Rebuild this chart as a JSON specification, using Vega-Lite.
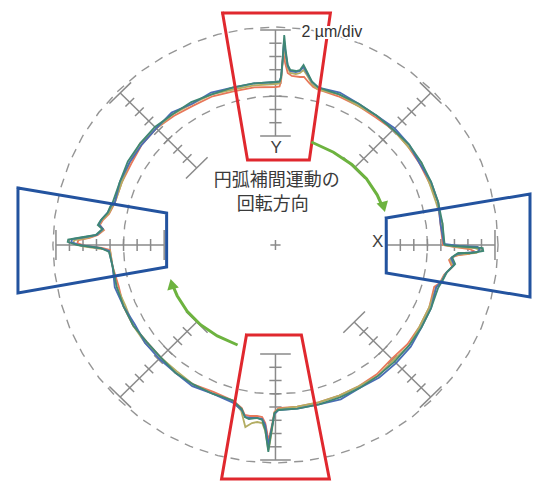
{
"$schema": "https://vega.github.io/schema/vega-lite/v6.json",
"width": 536, "height": 486,
"autosize": {"type": "fit", "contains": "padding"},
"padding": 0,
"background": "white",
"config": {"view": {"stroke": null}},
"encoding": {
  "x": {"field": "x", "type": "quantitative", "scale": {"domain": [-269.8, 254.2], "nice": false, "zero": false}, "axis": null},
  "y": {"field": "y", "type": "quantitative", "scale": {"domain": [-241, 245], "nice": false, "zero": false}, "axis": null}
},
"datasets": {
"rings": [
{"c":"o","x":218,"y":0},{"c":"o","x":216.1,"y":28.5},{"c":"o","x":210.6,"y":56.4},{"c":"o","x":201.4,"y":83.4},{"c":"o","x":188.8,"y":109},{"c":"o","x":172.9,"y":132.7},{"c":"o","x":154.1,"y":154.1},{"c":"o","x":132.7,"y":172.9},{"c":"o","x":109,"y":188.8},{"c":"o","x":83.4,"y":201.4},{"c":"o","x":56.4,"y":210.6},{"c":"o","x":28.5,"y":216.1},{"c":"o","x":0,"y":218},
{"c":"o","x":-28.5,"y":216.1},{"c":"o","x":-56.4,"y":210.6},{"c":"o","x":-83.4,"y":201.4},{"c":"o","x":-109,"y":188.8},{"c":"o","x":-132.7,"y":172.9},{"c":"o","x":-154.1,"y":154.1},{"c":"o","x":-172.9,"y":132.7},{"c":"o","x":-188.8,"y":109},{"c":"o","x":-201.4,"y":83.4},{"c":"o","x":-210.6,"y":56.4},{"c":"o","x":-216.1,"y":28.5},{"c":"o","x":-218,"y":0},
{"c":"o","x":-216.1,"y":-28.5},{"c":"o","x":-210.6,"y":-56.4},{"c":"o","x":-201.4,"y":-83.4},{"c":"o","x":-188.8,"y":-109},{"c":"o","x":-172.9,"y":-132.7},{"c":"o","x":-154.1,"y":-154.1},{"c":"o","x":-132.7,"y":-172.9},{"c":"o","x":-109,"y":-188.8},{"c":"o","x":-83.4,"y":-201.4},{"c":"o","x":-56.4,"y":-210.6},{"c":"o","x":-28.5,"y":-216.1},{"c":"o","x":0,"y":-218},
{"c":"o","x":28.5,"y":-216.1},{"c":"o","x":56.4,"y":-210.6},{"c":"o","x":83.4,"y":-201.4},{"c":"o","x":109,"y":-188.8},{"c":"o","x":132.7,"y":-172.9},{"c":"o","x":154.1,"y":-154.1},{"c":"o","x":172.9,"y":-132.7},{"c":"o","x":188.8,"y":-109},{"c":"o","x":201.4,"y":-83.4},{"c":"o","x":210.6,"y":-56.4},{"c":"o","x":216.1,"y":-28.5},{"c":"o","x":218,"y":0},
{"c":"i","x":149,"y":0},{"c":"i","x":147.7,"y":19.4},{"c":"i","x":143.9,"y":38.6},{"c":"i","x":137.7,"y":57.0},{"c":"i","x":129.0,"y":74.5},{"c":"i","x":118.2,"y":90.7},{"c":"i","x":105.4,"y":105.4},{"c":"i","x":90.7,"y":118.2},{"c":"i","x":74.5,"y":129.0},{"c":"i","x":57.0,"y":137.7},{"c":"i","x":38.6,"y":143.9},{"c":"i","x":19.4,"y":147.7},{"c":"i","x":0,"y":149},
{"c":"i","x":-19.4,"y":147.7},{"c":"i","x":-38.6,"y":143.9},{"c":"i","x":-57.0,"y":137.7},{"c":"i","x":-74.5,"y":129.0},{"c":"i","x":-90.7,"y":118.2},{"c":"i","x":-105.4,"y":105.4},{"c":"i","x":-118.2,"y":90.7},{"c":"i","x":-129.0,"y":74.5},{"c":"i","x":-137.7,"y":57.0},{"c":"i","x":-143.9,"y":38.6},{"c":"i","x":-147.7,"y":19.4},{"c":"i","x":-149,"y":0},
{"c":"i","x":-147.7,"y":-19.4},{"c":"i","x":-143.9,"y":-38.6},{"c":"i","x":-137.7,"y":-57.0},{"c":"i","x":-129.0,"y":-74.5},{"c":"i","x":-118.2,"y":-90.7},{"c":"i","x":-105.4,"y":-105.4},{"c":"i","x":-90.7,"y":-118.2},{"c":"i","x":-74.5,"y":-129.0},{"c":"i","x":-57.0,"y":-137.7},{"c":"i","x":-38.6,"y":-143.9},{"c":"i","x":-19.4,"y":-147.7},{"c":"i","x":0,"y":-149},
{"c":"i","x":19.4,"y":-147.7},{"c":"i","x":38.6,"y":-143.9},{"c":"i","x":57.0,"y":-137.7},{"c":"i","x":74.5,"y":-129.0},{"c":"i","x":90.7,"y":-118.2},{"c":"i","x":105.4,"y":-105.4},{"c":"i","x":118.2,"y":-90.7},{"c":"i","x":129.0,"y":-74.5},{"c":"i","x":137.7,"y":-57.0},{"c":"i","x":143.9,"y":-38.6},{"c":"i","x":147.7,"y":-19.4},{"c":"i","x":149,"y":0}
],
"rules": [
{"x":0,"y":109,"x2":0,"y2":215},{"x":0,"y":-109,"x2":0,"y2":-215},{"x":109,"y":0,"x2":215,"y2":0},{"x":-109,"y":0,"x2":-215,"y2":0},
{"x":77.07,"y":77.07,"x2":152.03,"y2":152.03},{"x":-77.07,"y":77.07,"x2":-152.03,"y2":152.03},{"x":-77.07,"y":-77.07,"x2":-152.03,"y2":-152.03},{"x":77.07,"y":-77.07,"x2":152.03,"y2":-152.03},
{"x":-5,"y":0,"x2":5,"y2":0},{"x":0,"y":-5,"x2":0,"y2":5},
{"x":-15,"y":109,"x2":15,"y2":109},{"x":-6,"y":122.3,"x2":6,"y2":122.3},{"x":-6,"y":135.5,"x2":6,"y2":135.5},{"x":-6,"y":148.8,"x2":6,"y2":148.8},{"x":-6,"y":162,"x2":6,"y2":162},{"x":-6,"y":175.3,"x2":6,"y2":175.3},{"x":-6,"y":188.5,"x2":6,"y2":188.5},{"x":-6,"y":201.8,"x2":6,"y2":201.8},{"x":-15,"y":215,"x2":15,"y2":215},
{"x":-15,"y":-109,"x2":15,"y2":-109},{"x":-6,"y":-122.3,"x2":6,"y2":-122.3},{"x":-6,"y":-135.5,"x2":6,"y2":-135.5},{"x":-6,"y":-148.8,"x2":6,"y2":-148.8},{"x":-6,"y":-162,"x2":6,"y2":-162},{"x":-6,"y":-175.3,"x2":6,"y2":-175.3},{"x":-6,"y":-188.5,"x2":6,"y2":-188.5},{"x":-6,"y":-201.8,"x2":6,"y2":-201.8},{"x":-15,"y":-215,"x2":15,"y2":-215},
{"x":109,"y":-15,"x2":109,"y2":15},{"x":122.3,"y":-6,"x2":122.3,"y2":6},{"x":135.5,"y":-6,"x2":135.5,"y2":6},{"x":148.8,"y":-6,"x2":148.8,"y2":6},{"x":162,"y":-6,"x2":162,"y2":6},{"x":175.3,"y":-6,"x2":175.3,"y2":6},{"x":188.5,"y":-6,"x2":188.5,"y2":6},{"x":201.8,"y":-6,"x2":201.8,"y2":6},{"x":215,"y":-15,"x2":215,"y2":15},
{"x":-109,"y":-15,"x2":-109,"y2":15},{"x":-122.3,"y":-6,"x2":-122.3,"y2":6},{"x":-135.5,"y":-6,"x2":-135.5,"y2":6},{"x":-148.8,"y":-6,"x2":-148.8,"y2":6},{"x":-162,"y":-6,"x2":-162,"y2":6},{"x":-175.3,"y":-6,"x2":-175.3,"y2":6},{"x":-188.5,"y":-6,"x2":-188.5,"y2":6},{"x":-201.8,"y":-6,"x2":-201.8,"y2":6},{"x":-215,"y":-15,"x2":-215,"y2":15},
{"x":66.47,"y":87.68,"x2":87.68,"y2":66.47},{"x":82.24,"y":90.72,"x2":90.72,"y2":82.24},{"x":91.57,"y":100.06,"x2":100.06,"y2":91.57},{"x":100.98,"y":109.46,"x2":109.46,"y2":100.98},{"x":110.31,"y":118.79,"x2":118.79,"y2":110.31},{"x":119.71,"y":128.2,"x2":128.2,"y2":119.71},{"x":129.05,"y":137.53,"x2":137.53,"y2":129.05},{"x":138.45,"y":146.94,"x2":146.94,"y2":138.45},{"x":141.42,"y":162.64,"x2":162.64,"y2":141.42},
{"x":-87.68,"y":66.47,"x2":-66.47,"y2":87.68},{"x":-90.72,"y":82.24,"x2":-82.24,"y2":90.72},{"x":-100.06,"y":91.57,"x2":-91.57,"y2":100.06},{"x":-109.46,"y":100.98,"x2":-100.98,"y2":109.46},{"x":-118.79,"y":110.31,"x2":-110.31,"y2":118.79},{"x":-128.2,"y":119.71,"x2":-119.71,"y2":128.2},{"x":-137.53,"y":129.05,"x2":-129.05,"y2":137.53},{"x":-146.94,"y":138.45,"x2":-138.45,"y2":146.94},{"x":-162.64,"y":141.42,"x2":-141.42,"y2":162.64},
{"x":-66.47,"y":-87.68,"x2":-87.68,"y2":-66.47},{"x":-82.24,"y":-90.72,"x2":-90.72,"y2":-82.24},{"x":-91.57,"y":-100.06,"x2":-100.06,"y2":-91.57},{"x":-100.98,"y":-109.46,"x2":-109.46,"y2":-100.98},{"x":-110.31,"y":-118.79,"x2":-118.79,"y2":-110.31},{"x":-119.71,"y":-128.2,"x2":-128.2,"y2":-119.71},{"x":-129.05,"y":-137.53,"x2":-137.53,"y2":-129.05},{"x":-138.45,"y":-146.94,"x2":-146.94,"y2":-138.45},{"x":-141.42,"y":-162.64,"x2":-162.64,"y2":-141.42},
{"x":87.68,"y":-66.47,"x2":66.47,"y2":-87.68},{"x":90.72,"y":-82.24,"x2":82.24,"y2":-90.72},{"x":100.06,"y":-91.57,"x2":91.57,"y2":-100.06},{"x":109.46,"y":-100.98,"x2":100.98,"y2":-109.46},{"x":118.79,"y":-110.31,"x2":110.31,"y2":-118.79},{"x":128.2,"y":-119.71,"x2":119.71,"y2":-128.2},{"x":137.53,"y":-129.05,"x2":129.05,"y2":-137.53},{"x":146.94,"y":-138.45,"x2":138.45,"y2":-146.94},{"x":162.64,"y":-141.42,"x2":141.42,"y2":-162.64}
],
"trace": [
{"s":"r","x":41.7,"y":155.5},{"s":"r","x":61.6,"y":148.7},{"s":"r","x":80.5,"y":139.4},{"s":"r","x":98.0,"y":127.7},{"s":"r","x":115.3,"y":115.3},{"s":"r","x":129.3,"y":99.2},{"s":"r","x":141.2,"y":81.5},{"s":"r","x":150.6,"y":62.4},{"s":"r","x":159.4,"y":42.7},{"s":"r","x":161.6,"y":21.3},
{"s":"r","x":164,"y":0},{"s":"r","x":176,"y":-2},{"s":"r","x":190,"y":-4},{"s":"r","x":194,"y":-6},{"s":"r","x":190,"y":-9},{"s":"r","x":180,"y":-10},{"s":"r","x":174,"y":-12},{"s":"r","x":170,"y":-15},{"s":"r","x":173,"y":-22},{"s":"r","x":165,"y":-30},{"s":"r","x":161,"y":-38},
{"s":"r","x":155.5,"y":-41.7},{"s":"r","x":150.6,"y":-62.4},{"s":"r","x":141.2,"y":-81.5},{"s":"r","x":129.3,"y":-99.2},{"s":"r","x":113.8,"y":-113.8},{"s":"r","x":99.2,"y":-129.3},{"s":"r","x":81.5,"y":-141.2},{"s":"r","x":62.4,"y":-150.6},{"s":"r","x":42.2,"y":-157.4},{"s":"r","x":21.3,"y":-161.6},
{"s":"r","x":3,"y":-163},{"s":"r","x":-1,"y":-167},{"s":"r","x":-3,"y":-178},{"s":"r","x":-5.5,"y":-190},{"s":"r","x":-7,"y":-195},{"s":"r","x":-8.5,"y":-186},{"s":"r","x":-10,"y":-178},{"s":"r","x":-13,"y":-172},{"s":"r","x":-18,"y":-171},{"s":"r","x":-25,"y":-171},{"s":"r","x":-30,"y":-170},{"s":"r","x":-33,"y":-163},
{"s":"r","x":-41.7,"y":-155.5},{"s":"r","x":-60.8,"y":-146.9},{"s":"r","x":-80.5,"y":-139.4},{"s":"r","x":-98.0,"y":-127.7},{"s":"r","x":-112.4,"y":-112.4},{"s":"r","x":-126.1,"y":-96.8},{"s":"r","x":-139.4,"y":-80.5},{"s":"r","x":-148.7,"y":-61.6},{"s":"r","x":-153.6,"y":-41.2},{"s":"r","x":-159.6,"y":-21.0},
{"s":"r","x":-162,"y":-5},{"s":"r","x":-170,"y":-3},{"s":"r","x":-186,"y":-1},{"s":"r","x":-194,"y":2},{"s":"r","x":-193,"y":5},{"s":"r","x":-182,"y":7},{"s":"r","x":-174,"y":10},{"s":"r","x":-168,"y":15},{"s":"r","x":-172,"y":20},{"s":"r","x":-169,"y":25},{"s":"r","x":-163,"y":31},{"s":"r","x":-160,"y":37},
{"s":"r","x":-157.4,"y":42.2},{"s":"r","x":-150.6,"y":62.4},{"s":"r","x":-141.2,"y":81.5},{"s":"r","x":-130.9,"y":100.4},{"s":"r","x":-116.7,"y":116.7},{"s":"r","x":-99.2,"y":129.3},{"s":"r","x":-80.5,"y":139.4},{"s":"r","x":-61.6,"y":148.7},{"s":"r","x":-41.2,"y":153.6},{"s":"r","x":-20.8,"y":157.6},
{"s":"r","x":0,"y":158},{"s":"r","x":4,"y":158.5},{"s":"r","x":5.5,"y":164},{"s":"r","x":6.5,"y":178},{"s":"r","x":7.6,"y":193},{"s":"r","x":9.5,"y":182},{"s":"r","x":12,"y":172},{"s":"r","x":16,"y":169},{"s":"r","x":24,"y":168},{"s":"r","x":28,"y":168},{"s":"r","x":33,"y":162},{"s":"r","x":37,"y":158},{"s":"r","x":41.7,"y":155.5},

{"s":"o","x":41.7,"y":155.5},{"s":"o","x":62.4,"y":150.6},{"s":"o","x":80.5,"y":139.4},{"s":"o","x":99.2,"y":129.3},{"s":"o","x":115.3,"y":115.3},{"s":"o","x":129.3,"y":99.2},{"s":"o","x":142.9,"y":82.5},{"s":"o","x":150.6,"y":62.4},{"s":"o","x":157.4,"y":42.2},{"s":"o","x":163.6,"y":21.5},
{"s":"o","x":165,"y":0},{"s":"o","x":178,"y":-2},{"s":"o","x":195,"y":-3},{"s":"o","x":200,"y":-5},{"s":"o","x":197,"y":-8},{"s":"o","x":184,"y":-9},{"s":"o","x":177,"y":-10},{"s":"o","x":171,"y":-14},{"s":"o","x":174,"y":-21},{"s":"o","x":166,"y":-29},{"s":"o","x":162,"y":-37},
{"s":"o","x":157.4,"y":-42.2},{"s":"o","x":150.6,"y":-62.4},{"s":"o","x":141.2,"y":-81.5},{"s":"o","x":130.9,"y":-100.4},{"s":"o","x":115.3,"y":-115.3},{"s":"o","x":100.4,"y":-130.9},{"s":"o","x":81.5,"y":-141.2},{"s":"o","x":62.4,"y":-150.6},{"s":"o","x":42.2,"y":-157.4},{"s":"o","x":21.3,"y":-161.6},
{"s":"o","x":3,"y":-164},{"s":"o","x":-1,"y":-168},{"s":"o","x":-3,"y":-182},{"s":"o","x":-5.5,"y":-198},{"s":"o","x":-7,"y":-205},{"s":"o","x":-8.5,"y":-195},{"s":"o","x":-10,"y":-186},{"s":"o","x":-13,"y":-178},{"s":"o","x":-18,"y":-177},{"s":"o","x":-23,"y":-178},{"s":"o","x":-29.5,"y":-182},{"s":"o","x":-33.5,"y":-166},
{"s":"o","x":-41.7,"y":-155.5},{"s":"o","x":-61.6,"y":-148.7},{"s":"o","x":-80.5,"y":-139.4},{"s":"o","x":-96.8,"y":-126.1},{"s":"o","x":-112.4,"y":-112.4},{"s":"o","x":-127.7,"y":-98.0},{"s":"o","x":-139.4,"y":-80.5},{"s":"o","x":-146.9,"y":-60.8},{"s":"o","x":-155.5,"y":-41.7},{"s":"o","x":-159.6,"y":-21.0},
{"s":"o","x":-162,"y":-6},{"s":"o","x":-170,"y":-4},{"s":"o","x":-190,"y":-1},{"s":"o","x":-198,"y":2},{"s":"o","x":-197,"y":5},{"s":"o","x":-185,"y":7},{"s":"o","x":-175,"y":10},{"s":"o","x":-169,"y":15},{"s":"o","x":-173,"y":20},{"s":"o","x":-170,"y":25},{"s":"o","x":-163,"y":32},{"s":"o","x":-160,"y":38},
{"s":"o","x":-157.4,"y":42.2},{"s":"o","x":-150.6,"y":62.4},{"s":"o","x":-142.9,"y":82.5},{"s":"o","x":-132.5,"y":101.7},{"s":"o","x":-116.7,"y":116.7},{"s":"o","x":-100.4,"y":130.9},{"s":"o","x":-81.5,"y":141.2},{"s":"o","x":-62.4,"y":150.6},{"s":"o","x":-41.7,"y":155.5},{"s":"o","x":-21.0,"y":159.6},
{"s":"o","x":0,"y":161},{"s":"o","x":4,"y":161.5},{"s":"o","x":5.5,"y":166},{"s":"o","x":7,"y":182},{"s":"o","x":8.2,"y":200},{"s":"o","x":10,"y":188},{"s":"o","x":12,"y":177},{"s":"o","x":14.5,"y":172},{"s":"o","x":20,"y":171},{"s":"o","x":24,"y":172},{"s":"o","x":27.5,"y":175},{"s":"o","x":30.8,"y":170},{"s":"o","x":35.7,"y":161},{"s":"o","x":41.7,"y":155.5},

{"s":"b","x":42.2,"y":157.4},{"s":"b","x":63.1,"y":152.4},{"s":"b","x":81.5,"y":141.2},{"s":"b","x":99.2,"y":129.3},{"s":"b","x":116.7,"y":116.7},{"s":"b","x":130.9,"y":100.4},{"s":"b","x":141.2,"y":81.5},{"s":"b","x":152.4,"y":63.1},{"s":"b","x":159.4,"y":42.7},{"s":"b","x":161.6,"y":21.3},
{"s":"b","x":165,"y":1},{"s":"b","x":180,"y":-1},{"s":"b","x":198,"y":-2},{"s":"b","x":200,"y":-4},{"s":"b","x":198,"y":-7},{"s":"b","x":185,"y":-8},{"s":"b","x":178,"y":-9},{"s":"b","x":172,"y":-13},{"s":"b","x":175,"y":-20},{"s":"b","x":167,"y":-28},{"s":"b","x":163,"y":-36},
{"s":"b","x":157.4,"y":-42.2},{"s":"b","x":152.4,"y":-63.1},{"s":"b","x":142.9,"y":-82.5},{"s":"b","x":132.5,"y":-101.7},{"s":"b","x":118.1,"y":-118.1},{"s":"b","x":101.7,"y":-132.5},{"s":"b","x":82.5,"y":-142.9},{"s":"b","x":63.9,"y":-154.3},{"s":"b","x":42.7,"y":-159.4},{"s":"b","x":21.5,"y":-163.6},
{"s":"b","x":3,"y":-165},{"s":"b","x":-1,"y":-169},{"s":"b","x":-3,"y":-180},{"s":"b","x":-5.5,"y":-193},{"s":"b","x":-7,"y":-200},{"s":"b","x":-8.5,"y":-190},{"s":"b","x":-10,"y":-180},{"s":"b","x":-13,"y":-174},{"s":"b","x":-18,"y":-173},{"s":"b","x":-25,"y":-173},{"s":"b","x":-29.5,"y":-172},{"s":"b","x":-33,"y":-165},
{"s":"b","x":-42.2,"y":-157.4},{"s":"b","x":-61.6,"y":-148.7},{"s":"b","x":-81.5,"y":-141.2},{"s":"b","x":-98.0,"y":-127.7},{"s":"b","x":-113.8,"y":-113.8},{"s":"b","x":-127.7,"y":-98.0},{"s":"b","x":-137.7,"y":-79.5},{"s":"b","x":-148.7,"y":-61.6},{"s":"b","x":-157.4,"y":-42.2},{"s":"b","x":-159.6,"y":-21.0},
{"s":"b","x":-163,"y":-6},{"s":"b","x":-172,"y":-3},{"s":"b","x":-192,"y":0},{"s":"b","x":-200,"y":3},{"s":"b","x":-199,"y":6},{"s":"b","x":-186,"y":8},{"s":"b","x":-175,"y":10},{"s":"b","x":-169,"y":16},{"s":"b","x":-173,"y":21},{"s":"b","x":-170,"y":26},{"s":"b","x":-164,"y":33},{"s":"b","x":-161,"y":39},
{"s":"b","x":-157.4,"y":42.2},{"s":"b","x":-152.4,"y":63.1},{"s":"b","x":-142.9,"y":82.5},{"s":"b","x":-130.9,"y":100.4},{"s":"b","x":-116.7,"y":116.7},{"s":"b","x":-101.7,"y":132.5},{"s":"b","x":-81.5,"y":141.2},{"s":"b","x":-63.1,"y":152.4},{"s":"b","x":-42.2,"y":157.4},{"s":"b","x":-21.3,"y":161.6},
{"s":"b","x":0,"y":163},{"s":"b","x":4,"y":163.5},{"s":"b","x":5.5,"y":168},{"s":"b","x":7,"y":184},{"s":"b","x":8.4,"y":205},{"s":"b","x":10,"y":192},{"s":"b","x":12,"y":179},{"s":"b","x":14.5,"y":174},{"s":"b","x":20,"y":173},{"s":"b","x":24,"y":174},{"s":"b","x":27.5,"y":178},{"s":"b","x":30.8,"y":172},{"s":"b","x":35.7,"y":163},{"s":"b","x":42.2,"y":157.4},

{"s":"g","x":42.2,"y":157.4},{"s":"g","x":62.4,"y":150.6},{"s":"g","x":81.5,"y":141.2},{"s":"g","x":99.2,"y":129.3},{"s":"g","x":115.3,"y":115.3},{"s":"g","x":130.9,"y":100.4},{"s":"g","x":142.9,"y":82.5},{"s":"g","x":152.4,"y":63.1},{"s":"g","x":159.4,"y":42.7},{"s":"g","x":163.6,"y":21.5},{"s":"g","x":165.5,"y":2},
{"s":"g","x":166,"y":0},{"s":"g","x":175,"y":-1},{"s":"g","x":190,"y":-2},{"s":"g","x":203,"y":-3},{"s":"g","x":203.5,"y":-6},{"s":"g","x":192,"y":-8},{"s":"g","x":179,"y":-8},{"s":"g","x":173,"y":-12},{"s":"g","x":176,"y":-19},{"s":"g","x":168,"y":-27},{"s":"g","x":164,"y":-35},
{"s":"g","x":159.4,"y":-42.7},{"s":"g","x":152.4,"y":-63.1},{"s":"g","x":142.9,"y":-82.5},{"s":"g","x":130.9,"y":-100.4},{"s":"g","x":116.7,"y":-116.7},{"s":"g","x":100.4,"y":-130.9},{"s":"g","x":82.5,"y":-142.9},{"s":"g","x":63.1,"y":-152.4},{"s":"g","x":42.7,"y":-159.4},{"s":"g","x":21.5,"y":-163.6},
{"s":"g","x":2.7,"y":-165},{"s":"g","x":-1,"y":-168},{"s":"g","x":-3,"y":-180},{"s":"g","x":-5.5,"y":-196},{"s":"g","x":-7,"y":-207},{"s":"g","x":-8.5,"y":-196},{"s":"g","x":-10,"y":-185},{"s":"g","x":-13,"y":-175},{"s":"g","x":-18,"y":-173},{"s":"g","x":-26,"y":-174},{"s":"g","x":-30,"y":-172},{"s":"g","x":-33,"y":-164},
{"s":"g","x":-41.7,"y":-155.5},{"s":"g","x":-61.6,"y":-148.7},{"s":"g","x":-80.5,"y":-139.4},{"s":"g","x":-98.0,"y":-127.7},{"s":"g","x":-112.4,"y":-112.4},{"s":"g","x":-126.1,"y":-96.8},{"s":"g","x":-139.4,"y":-80.5},{"s":"g","x":-148.7,"y":-61.6},{"s":"g","x":-155.5,"y":-41.7},{"s":"g","x":-159.6,"y":-21.0},
{"s":"g","x":-163,"y":-7},{"s":"g","x":-171,"y":-3},{"s":"g","x":-194,"y":0},{"s":"g","x":-203.5,"y":3},{"s":"g","x":-203,"y":5.5},{"s":"g","x":-188,"y":8},{"s":"g","x":-176,"y":10},{"s":"g","x":-169.5,"y":16},{"s":"g","x":-174,"y":20},{"s":"g","x":-171,"y":25},{"s":"g","x":-164.5,"y":32},{"s":"g","x":-162,"y":38},
{"s":"g","x":-159.4,"y":42.7},{"s":"g","x":-152.4,"y":63.1},{"s":"g","x":-144.6,"y":83.5},{"s":"g","x":-132.5,"y":101.7},{"s":"g","x":-118.1,"y":118.1},{"s":"g","x":-100.4,"y":130.9},{"s":"g","x":-82.5,"y":142.9},{"s":"g","x":-62.4,"y":150.6},{"s":"g","x":-42.2,"y":157.4},{"s":"g","x":-21.3,"y":161.6},
{"s":"g","x":0,"y":163},{"s":"g","x":4,"y":163.5},{"s":"g","x":5.5,"y":168},{"s":"g","x":7,"y":185},{"s":"g","x":8.6,"y":210},{"s":"g","x":10,"y":195},{"s":"g","x":12,"y":180},{"s":"g","x":14.5,"y":175},{"s":"g","x":20,"y":174},{"s":"g","x":24,"y":175},{"s":"g","x":27.5,"y":180},{"s":"g","x":30.8,"y":173.5},{"s":"g","x":35.7,"y":163.5},{"s":"g","x":42.2,"y":157.4}
],
"redbox": [
{"p":"t","x":-51.8,"y":232},{"p":"t","x":53.8,"y":232},{"p":"t","x":33.2,"y":85},{"p":"t","x":-27.4,"y":85},{"p":"t","x":-51.8,"y":232},
{"p":"b","x":-28.4,"y":-90},{"p":"b","x":25.4,"y":-90},{"p":"b","x":52.8,"y":-234},{"p":"b","x":-52.8,"y":-234},{"p":"b","x":-28.4,"y":-90}
],
"bluebox": [
{"p":"l","x":-252.2,"y":57},{"p":"l","x":-106.6,"y":32},{"p":"l","x":-106.6,"y":-22},{"p":"l","x":-252.2,"y":-48},{"p":"l","x":-252.2,"y":57},
{"p":"r","x":108.5,"y":27},{"p":"r","x":249.3,"y":51},{"p":"r","x":249.3,"y":-52},{"p":"r","x":108.5,"y":-28},{"p":"r","x":108.5,"y":27}
],
"arrows": [
{"a":"t","x":35.2,"y":103},{"a":"t","x":56.8,"y":92.8},{"a":"t","x":74.8,"y":80.6},{"a":"t","x":89.1,"y":66.4},{"a":"t","x":99.6,"y":50.2},{"a":"t","x":103.5,"y":41.3},
{"a":"b","x":-37.1,"y":-100},{"a":"b","x":-57.0,"y":-90.9},{"a":"b","x":-73.4,"y":-79.7},{"a":"b","x":-86.5,"y":-66.3},{"a":"b","x":-96.3,"y":-50.7},{"a":"b","x":-99.9,"y":-42.1}
]
},
"layer": [
{"data": {"name": "rings"}, "mark": {"type": "line", "stroke": "#959595", "strokeWidth": 1.4, "strokeDash": [9, 7]}, "encoding": {"detail": {"field": "c"}, "order": {"value": null}}},
{"data": {"name": "rules"}, "mark": {"type": "rule", "color": "#8a8a8a", "strokeWidth": 1.5}, "encoding": {"x2": {"field": "x2"}, "y2": {"field": "y2"}}},
{"data": {"name": "trace"}, "mark": {"type": "line", "strokeWidth": 1.8}, "encoding": {"color": {"field": "s", "type": "nominal", "scale": {"domain": ["r", "o", "b", "g"], "range": ["#e8785a", "#b3ad62", "#4a6db5", "#3f8774"]}, "legend": null}, "order": {"value": null}}},
{"data": {"name": "redbox"}, "mark": {"type": "line", "stroke": "#e0282e", "strokeWidth": 3, "strokeJoin": "miter", "strokeCap": "square"}, "encoding": {"detail": {"field": "p"}, "order": {"value": null}}},
{"data": {"name": "bluebox"}, "mark": {"type": "line", "stroke": "#23539f", "strokeWidth": 3, "strokeJoin": "miter", "strokeCap": "square"}, "encoding": {"detail": {"field": "p"}, "order": {"value": null}}},
{"data": {"name": "arrows"}, "mark": {"type": "line", "stroke": "#6db33f", "strokeWidth": 3}, "encoding": {"detail": {"field": "a"}, "order": {"value": null}}},
{"data": {"values": [{"x": 105.9, "y": 38}]}, "mark": {"type": "point", "shape": "triangle-down", "filled": true, "color": "#6db33f", "size": 140, "angle": -15, "opacity": 1}},
{"data": {"values": [{"x": -101.5, "y": -39}]}, "mark": {"type": "point", "shape": "triangle-up", "filled": true, "color": "#6db33f", "size": 140, "angle": -14, "opacity": 1}},
{"data": {"values": [{"x": 1.3, "y": 64, "t": "円弧補間運動の"}, {"x": -2.6, "y": 40, "t": "回転方向"}]}, "mark": {"type": "text", "font": "Noto Sans CJK JP", "fontSize": 18, "color": "#3a3a3a", "align": "center", "baseline": "middle"}, "encoding": {"text": {"field": "t"}}},
{"data": {"values": [{"x": 0.7, "y": 96.7, "t": "Y"}, {"x": 100, "y": 3.3, "t": "X"}]}, "mark": {"type": "text", "font": "Liberation Sans", "fontSize": 17, "color": "#404040", "align": "center", "baseline": "middle"}, "encoding": {"text": {"field": "t"}}},
{"data": {"values": [{"x": 25.4, "y": 208.5, "t": "2 µm/div"}]}, "mark": {"type": "text", "font": "Liberation Sans", "fontSize": 16, "color": "white", "stroke": "white", "strokeWidth": 4, "align": "left", "baseline": "alphabetic"}, "encoding": {"text": {"field": "t"}}},
{"data": {"values": [{"x": 25.4, "y": 208.5, "t": "2 µm/div"}]}, "mark": {"type": "text", "font": "Liberation Sans", "fontSize": 16, "color": "#333333", "align": "left", "baseline": "alphabetic"}, "encoding": {"text": {"field": "t"}}}
]
}
